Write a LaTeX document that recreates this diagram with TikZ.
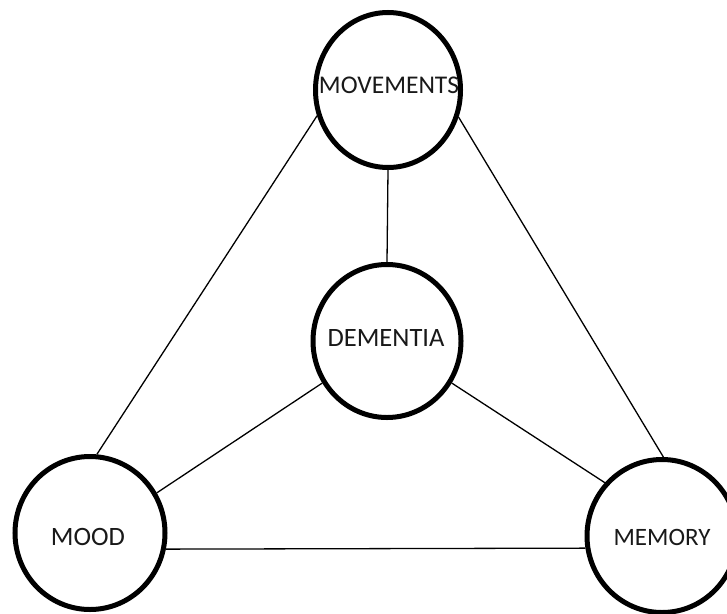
\documentclass[tikz,border=0pt]{standalone}
\usepackage{fontspec}
\setmainfont{Carlito}
\usetikzlibrary{shapes.geometric}
\begin{document}
\begin{tikzpicture}[x=1pt,y=-1pt,
  bubble/.style={ellipse,draw=black,line width=5pt,fill=white,inner sep=0pt},
  tag/.style={inner sep=0pt,font=\fontsize{26.5}{30}\selectfont,text=black!90},
  link/.style={draw=black,line width=1.3pt}]
\useasboundingbox (0,0) rectangle (727,613);
\clip (0,0) rectangle (727,613);
\node[bubble,minimum width=145,minimum height=155] (mov) at (388,90) {};
\node[bubble,minimum width=148,minimum height=153] (dem) at (387,341) {};
\node[bubble,minimum width=150,minimum height=153] (mood) at (90,533) {};
\node[bubble,minimum width=150,minimum height=153] (mem) at (662,536) {};
\node[tag,font=\fontsize{25.5}{30}\selectfont] (tmov) at (389,85) {MOVEMENTS};
\node[tag] (tdem) at (386,338) {DEMENTIA};
\node[tag] (tmood) at (88,537) {MOOD};
\node[tag,font=\fontsize{25}{30}\selectfont] (tmem) at (662,537) {MEMORY};
\draw[link] (mov.270) -- (dem.90);
\draw[link] (mov.200) -- (mood.85);
\draw[link] (mov.339) -- (mem.89);
\draw[link] (dem.213) -- (mood.31);
\draw[link] (dem.327) -- (mem.137);
\draw[link] (mood.348.7) -- (mem.189);
\end{tikzpicture}
\end{document}
